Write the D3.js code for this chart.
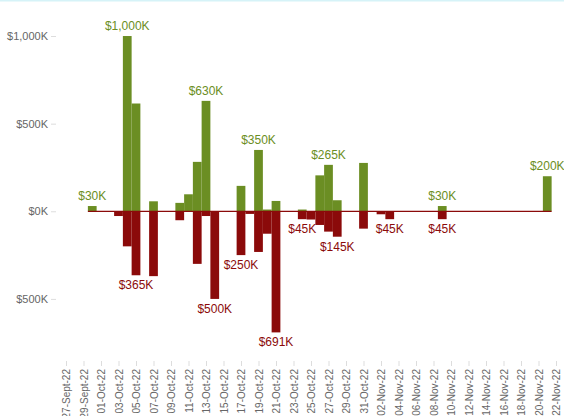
<!DOCTYPE html>
<html>
<head>
<meta charset="utf-8">
<script src="https://cdn.jsdelivr.net/npm/d3@7"></script>
<style>
  body { margin: 0; background: #fff; }
  svg { display: block; font-family: "Liberation Sans", Arial, sans-serif; }
</style>
</head>
<body>
<div id="chart"></div>
<script>
// daily inflows / outflows in $K
const dates = ["2022-09-30", "2022-10-03", "2022-10-04", "2022-10-05", "2022-10-07",
  "2022-10-10", "2022-10-11", "2022-10-12", "2022-10-13", "2022-10-14",
  "2022-10-17", "2022-10-18", "2022-10-19", "2022-10-20", "2022-10-21",
  "2022-10-24", "2022-10-25", "2022-10-26", "2022-10-27", "2022-10-28",
  "2022-10-31", "2022-11-02", "2022-11-03", "2022-11-09", "2022-11-21"];
const inflow = [30, 0, 1000, 615, 57,
  48, 97, 282, 630, 0,
  145, 0, 350, 10, 59,
  10, 0, 205, 265, 63,
  276, 0, 0, 30, 200];
const outflow = [0, -27, -200, -365, -370,
  -51, 0, -300, -27, -500,
  -250, -15, -232, -128, -691,
  -45, -47, -78, -116, -145,
  -99, -17, -45, -45, 0];

// which bars carry a value label
const inflowLabels = ["2022-09-30", "2022-10-04", "2022-10-13", "2022-10-19", "2022-10-27", "2022-11-09", "2022-11-21"];
const outflowLabels = ["2022-10-05", "2022-10-14", "2022-10-17", "2022-10-21", "2022-10-24", "2022-10-28", "2022-11-03", "2022-11-09"];

const yTicks = [-500, 0, 500, 1000];
const monthNames = ["Jan", "Feb", "Mar", "Apr", "May", "Jun", "Jul", "Aug", "Sept", "Oct", "Nov", "Dec"];

const width = 564, height = 416;
const green = "#6b8e23", red = "#8b0a0a";

const parse = d3.timeParse("%Y-%m-%d");
const rows = dates.map((d, i) => ({ key: d, date: parse(d), inflow: inflow[i], outflow: outflow[i] }));

const svg = d3.select("#chart")
    .append("svg")
    .attr("width", width)
    .attr("height", height);

// thin border on top like the original frame
svg.append("rect")
    .attr("x", 0).attr("y", 0)
    .attr("width", width).attr("height", 1.5)
    .attr("fill", "#d6f3f8");

const start = new Date(2022, 8, 27), end = new Date(2022, 10, 22);
const x = d3.scaleTime()
    .domain([start, end])
    .range([66, 556]);

const y = d3.scaleLinear()
    .domain([-800, 1100])
    .range([351.5, 18.5]);

const barW = x(new Date(2022, 9, 2)) - x(new Date(2022, 9, 1));

const fmtK = v => "$" + d3.format(",")(Math.abs(v)) + "K";

// Y axis
const yAxis = svg.append("g")
    .attr("transform", "translate(56,0)")
    .call(d3.axisLeft(y).tickValues(yTicks).tickSize(5).tickPadding(3).tickFormat(fmtK));
yAxis.select(".domain").remove();
yAxis.selectAll(".tick line").attr("stroke", "#ddd");
yAxis.selectAll(".tick text")
    .attr("fill", "#666")
    .style("font-size", "11px");

// X axis
const tickDates = d3.timeDay.range(start, new Date(2022, 10, 23), 2);
const xAxis = svg.append("g")
    .attr("transform", "translate(0,361)")
    .call(d3.axisBottom(x)
        .tickValues(tickDates)
        .tickSize(5)
        .tickFormat(d => d3.timeFormat("%d")(d) + "-" + monthNames[d.getMonth()] + "-" + d3.timeFormat("%y")(d)));
xAxis.select(".domain").remove();
xAxis.selectAll(".tick line").attr("stroke", "#ddd");
xAxis.selectAll(".tick text")
    .attr("transform", "rotate(-90)")
    .attr("x", -8)
    .attr("y", 0)
    .attr("dy", "0.35em")
    .attr("text-anchor", "end")
    .attr("fill", "#666")
    .style("font-size", "10px");

// bars
svg.append("g")
    .selectAll("rect")
    .data(rows.filter(d => d.inflow > 0))
    .enter()
    .append("rect")
    .attr("x", d => x(d.date) - barW / 2)
    .attr("width", barW)
    .attr("y", d => y(d.inflow))
    .attr("height", d => y(0) - y(d.inflow))
    .attr("fill", green);

svg.append("g")
    .selectAll("rect")
    .data(rows.filter(d => d.outflow < 0))
    .enter()
    .append("rect")
    .attr("x", d => x(d.date) - barW / 2)
    .attr("width", barW)
    .attr("y", y(0))
    .attr("height", d => y(d.outflow) - y(0))
    .attr("fill", red);

// zero line across the data range
svg.append("line")
    .attr("x1", x(rows[0].date) - barW / 2)
    .attr("x2", x(rows[rows.length - 1].date) + barW / 2)
    .attr("y1", y(0))
    .attr("y2", y(0))
    .attr("stroke", red)
    .attr("stroke-width", 1.2);

// value labels
svg.append("g")
    .selectAll("text")
    .data(rows.filter(d => inflowLabels.includes(d.key)))
    .enter()
    .append("text")
    .attr("x", d => x(d.date))
    .attr("y", d => y(d.inflow) - 6)
    .attr("text-anchor", "middle")
    .attr("fill", green)
    .style("font-size", "12px")
    .text(d => fmtK(d.inflow));

svg.append("g")
    .selectAll("text")
    .data(rows.filter(d => outflowLabels.includes(d.key)))
    .enter()
    .append("text")
    .attr("x", d => x(d.date))
    .attr("y", d => y(d.outflow) + 14)
    .attr("text-anchor", "middle")
    .attr("fill", red)
    .style("font-size", "12px")
    .text(d => fmtK(d.outflow));
</script>
</body>
</html>
